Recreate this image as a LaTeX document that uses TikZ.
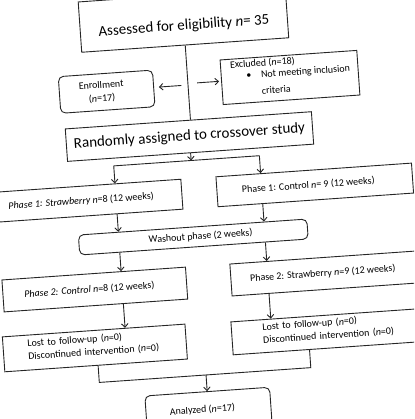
\documentclass[tikz,border=0pt]{standalone}
\usepackage{fontspec}
\setmainfont{Carlito}
\usetikzlibrary{arrows.meta}
\tikzset{
  box/.style={draw=black!85, line width=0.9pt, inner sep=0pt, align=center, font=\fontsize{10}{12}\selectfont},
  rbox/.style={box, rounded corners=5pt},
  bigbox/.style={box, font=\fontsize{15}{18}\selectfont},
  leftbox/.style={box, align=left},
  arr/.style={-{Straight Barb[length=3.5pt,width=6.5pt]}, line width=0.9pt, draw=black!85},
  ln/.style={line width=0.9pt, draw=black!85}
}
\begin{document}
\begin{tikzpicture}[x=1pt,y=1pt]
\fill[white] (-207,-209.5) rectangle (207,209.5);
\clip (-207,-209.5) rectangle (207,209.5);
\begin{scope}[rotate=4, transform shape]
  % boxes
  \node[bigbox, minimum width=207.5, minimum height=50.4] (ass) at (-10.25,190.8)
    {\rule{0pt}{23pt}Assessed for eligibility \textit{n}= 35};
  \node[rbox, minimum width=94.4, minimum height=36.7] (enr) at (-91.9,124.5)
    {Enrollment\hspace*{10pt}\\[1.5pt](\textit{n}=17)\hspace*{10pt}};
  \node[leftbox, minimum width=137, minimum height=44.7] (exc) at (92,125.9)
    {\hspace*{1.5pt}Excluded (\textit{n}=18)\\[-0.5pt]\hspace*{17pt}\makebox[14.8pt][l]{\textbullet}Not meeting inclusion\\[4.4pt]\hspace*{31.5pt}criteria\rule[-6pt]{0pt}{1pt}};
  \node[bigbox, minimum width=246.7, minimum height=32.5] (rand) at (-12.4,74)
    {Randomly assigned to crossover study};
  \node[box, minimum width=196, minimum height=30] (s1) at (-122,17)
    {\textit{Phase 1: Strawberry n}=8 (12 weeks)\hspace*{6pt}};
  \node[box, minimum width=196, minimum height=30] (c1) at (109.2,17)
    {Phase 1: Control \textit{n}= 9 (12 weeks)\hspace*{13pt}};
  \node[rbox, minimum width=229, minimum height=20] (wash) at (-15.6,-26.5)
    {\hspace*{14.6pt}Washout phase (2 weeks)};
  \node[box, minimum width=184, minimum height=32] (s2) at (-117.5,-72)
    {\textit{Phase 2: Control n}=8 (12 weeks)\hspace*{11pt}};
  \node[box, minimum width=190, minimum height=32] (c2) at (114,-72)
    {Phase 2: Strawberry \textit{n}=9 (12 weeks)\hspace*{6pt}};
  \node[leftbox, text width=134, inner xsep=24.5, minimum height=35] (lostL) at (-121.5,-130.3)
    {Lost to follow-up (\textit{n}=0)\\[1pt]Discontinued intervention (\textit{n}=0)\rule[-6pt]{0pt}{1pt}};
  \node[leftbox, text width=132, inner xsep=31, minimum height=33] (lostR) at (113,-130.3)
    {Lost to follow-up (\textit{n}=0)\\[1pt]Discontinued intervention (\textit{n}=0)\rule[-6pt]{0pt}{1pt}};
  \node[rbox, minimum width=125, minimum height=36] (an) at (-12.5,-199.7)
    {Analyzed (\textit{n}=17)\hspace*{12pt}};
  % helper coordinates
  \coordinate (bL) at (-90,50);
  \coordinate (bR) at (56,50);
  \coordinate (mL) at (-119.5,-165);
  \coordinate (mR) at (92.5,-165);
  \coordinate (la0) at (-17,125.5);
  \coordinate (la1) at (-39.5,125.5);
  \coordinate (ra0) at (-1,127);
  \coordinate (ra1) at (21,127);
  % connectors
  \draw[ln] (ass.south) -- (ass.south |- rand.north);
  \draw[arr] (la0) -- (la1);
  \draw[arr] (ra0) -- (ra1);
  \draw[arr] (rand.south) -- (rand.south |- bL);
  \draw[ln] (bL) -- (bR);
  \draw[arr] (bL) -- (bL |- s1.north);
  \draw[arr] (bR) -- (bR |- c1.north);
  \draw[arr] (s1.south -| bL) -- (wash.north -| bL);
  \draw[arr] (c1.south -| bR) -- (wash.north -| bR);
  \draw[arr] (wash.south -| bL) -- (s2.north -| bL);
  \draw[arr] (wash.south -| bR) -- (c2.north -| bR);
  \draw[arr] (s2.south -| bL) -- (lostL.north -| bL);
  \draw[arr] (c2.south -| bR) -- (lostR.north -| bR);
  \draw[ln] (lostL.south -| mL) -- (mL) -- (mR) -- (lostR.south -| mR);
  \draw[arr] (an.north |- mL) -- (an.north);
\end{scope}
\end{tikzpicture}
\end{document}
